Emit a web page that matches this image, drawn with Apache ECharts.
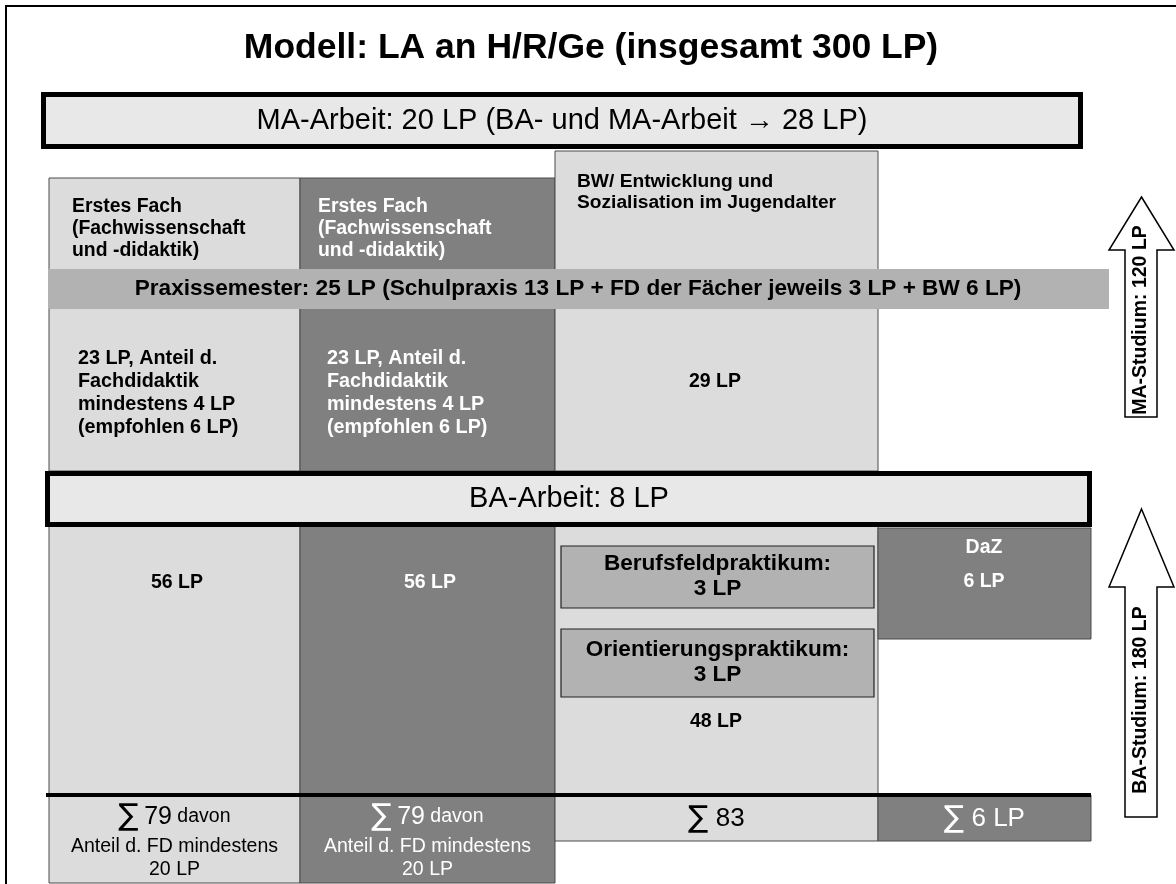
<!DOCTYPE html>
<html>
<head>
<meta charset="utf-8">
<script src="https://cdn.jsdelivr.net/npm/echarts@6/dist/echarts.min.js"></script>
<style>html,body{margin:0;padding:0;background:#fff;}#main{width:1176px;height:884px;}</style>
</head>
<body>
<div id="main"></div>
<script>
// ---------- content / values ----------
const titleText = 'Modell: LA an H/R/Ge (insgesamt 300 LP)';
const maThesis = 'MA-Arbeit: 20 LP (BA- und MA-Arbeit \u2192 28 LP)';
const baThesis = 'BA-Arbeit: 8 LP';
const practiceSemester = 'Praxissemester: 25 LP (Schulpraxis 13 LP + FD der F\u00e4cher jeweils 3 LP + BW 6 LP)';
const columnHeads = [
  'Erstes Fach\n(Fachwissenschaft\nund -didaktik)',
  'Erstes Fach\n(Fachwissenschaft\nund -didaktik)',
  'BW/ Entwicklung und\nSozialisation im Jugendalter'
];
const maModules = [
  '23 LP, Anteil d.\nFachdidaktik\nmindestens 4 LP\n(empfohlen 6 LP)',
  '23 LP, Anteil d.\nFachdidaktik\nmindestens 4 LP\n(empfohlen 6 LP)',
  '29 LP'
];
const baModuleLP = [56, 56, 48];
const dazName = 'DaZ';
const dazLP = 6;
const internships = ['Berufsfeldpraktikum', 'Orientierungspraktikum'];
const internshipLP = [3, 3];
const sumLP = [79, 79, 83, 6];
const fdMinimumLP = 20;
const phaseNames = ['MA-Studium', 'BA-Studium'];
const phaseLP = [120, 180];

// ---------- layout (diagram units) ----------
const W = 1176, H = 884;
const colX = [49, 300, 555, 878, 1091];
const upperTop = [178, 178, 151];
const upperBottom = 471;
const lowerTop = 525, lowerBottom = 795;
const sumBottom = [883, 883, 841, 841];
const dazBox = [878, 528, 1091, 639];
const bandBox = [48, 269, 1109, 309];
const maBox = [41, 92, 1083, 149];
const baBox = [45, 471, 1092, 527];
const internBoxes = [[561, 546, 874, 608], [561, 629, 874, 697]];
const arrowX = [1109, 1125, 1157, 1174];
const arrows = [[197, 250, 417], [509, 587, 817]];

const LIGHT = '#dcdcdc', DARK = '#808080', BAND = '#b2b2b2', THESIS = '#e8e8e8', EDGE = '#4a4a4a';
const FONT = '"Liberation Sans", Arial, Helvetica, sans-serif';

// ---------- element specs ----------
const specs = [];
function box(b, fill, stroke, lw) { specs.push({ kind: 'rect', b, fill, stroke, lw }); }
function txt(x, y, text, o) { specs.push(Object.assign({ kind: 'text', x, y, text }, o)); }

// frame (right and bottom edges lie outside the picture)
specs.push({ kind: 'rect', b: [6, 6, 1200, 900], fill: 'none', stroke: '#000', lw: 2 });
// upper columns
const colFill = [LIGHT, DARK, LIGHT, DARK];
for (let i = 0; i < 3; i++) box([colX[i], upperTop[i], colX[i + 1], upperBottom], colFill[i], EDGE, 1);
// lower columns
for (let i = 0; i < 3; i++) box([colX[i], lowerTop, colX[i + 1], lowerBottom], colFill[i], EDGE, 1);
box(dazBox, DARK, EDGE, 1);
// sum cells
for (let i = 0; i < 4; i++) box([colX[i], lowerBottom, colX[i + 1], sumBottom[i]], colFill[i], EDGE, 1);
// praxissemester band
box(bandBox, BAND, null, 0);
// thesis boxes
box([maBox[0] + 2.5, maBox[1] + 2.5, maBox[2] - 2.5, maBox[3] - 2.5], THESIS, '#000', 5);
box([baBox[0] + 2.5, baBox[1] + 2.5, baBox[2] - 2.5, baBox[3] - 2.5], THESIS, '#000', 5);
// sum line
specs.push({ kind: 'line', p: [[46, lowerBottom], [1091, lowerBottom]], lw: 4 });
// internships
internBoxes.forEach(b => box(b, BAND, '#222', 1.2));
// arrows
arrows.forEach(a => specs.push({ kind: 'poly', pts: [
  [(arrowX[0] + arrowX[3]) / 2, a[0]], [arrowX[3], a[1]], [arrowX[2], a[1]], [arrowX[2], a[2]],
  [arrowX[1], a[2]], [arrowX[1], a[1]], [arrowX[0], a[1]]] }));

// texts
txt(591, 48, titleText, { size: 35.5, bold: true });
txt(562, 121, maThesis, { size: 29 });
txt(569, 499, baThesis, { size: 29 });
txt(578, 289, practiceSemester, { size: 22.6, bold: true });
txt(72, 229, columnHeads[0], { size: 19.4, bold: true, align: 'left', lh: 22 });
txt(318, 229, columnHeads[1], { size: 19.4, bold: true, align: 'left', lh: 22, fill: '#fff' });
txt(577, 192.5, columnHeads[2], { size: 19.2, bold: true, align: 'left', lh: 21 });
txt(78, 393.5, maModules[0], { size: 19.8, bold: true, align: 'left', lh: 23 });
txt(327, 393.5, maModules[1], { size: 19.8, bold: true, align: 'left', lh: 23, fill: '#fff' });
txt(715, 382, maModules[2], { size: 19.5, bold: true });
txt(177, 583, baModuleLP[0] + ' LP', { size: 19.5, bold: true });
txt(430, 583, baModuleLP[1] + ' LP', { size: 19.5, bold: true, fill: '#fff' });
txt(716, 722, baModuleLP[2] + ' LP', { size: 19.5, bold: true });
internships.forEach((n, i) => {
  const b = internBoxes[i];
  txt((b[0] + b[2]) / 2, (b[1] + b[3]) / 2 - 0.5, n + ':\n' + internshipLP[i] + ' LP', { size: 22.6, bold: true, lh: 25 });
});
txt(984, 548, dazName, { size: 19.5, bold: true, fill: '#fff' });
txt(984, 582, dazLP + ' LP', { size: 19.5, bold: true, fill: '#fff' });
// sums
[0, 1].forEach(i => {
  const cx = (colX[i] + colX[i + 1]) / 2, f = i === 1 ? '#fff' : '#000';
  txt(cx, 817, '{g|\u2211} {b|' + sumLP[i] + '} {s|davon}', { size: 19.5, fill: f, rich: {
    g: { fontSize: 30, fill: f, fontFamily: '"DejaVu Sans", sans-serif' },
    b: { fontSize: 25, fill: f, fontFamily: FONT }, s: { fontSize: 19.5, fill: f, fontFamily: FONT } } });
  txt(cx, 858.5, 'Anteil d. FD mindestens\n' + fdMinimumLP + ' LP', { size: 19.5, fill: f, lh: 23 });
});
const sumRich = f => ({ g: { fontSize: 30, fill: f, fontFamily: '"DejaVu Sans", sans-serif' }, b: { fontSize: 26, fill: f, fontFamily: FONT } });
txt((colX[2] + colX[3]) / 2, 819, '{g|\u2211} {b|' + sumLP[2] + '}', { size: 26, rich: sumRich('#000') });
txt((colX[3] + colX[4]) / 2, 819, '{g|\u2211} {b|' + sumLP[3] + ' LP}', { size: 26, fill: '#fff', rich: sumRich('#fff') });
// arrow labels
txt(1141, 320, phaseNames[0] + ': ' + phaseLP[0] + ' LP', { size: 19.5, bold: true, rot: Math.PI / 2 });
txt(1141, 700, phaseNames[1] + ': ' + phaseLP[1] + ' LP', { size: 19.5, bold: true, rot: Math.PI / 2 });

// ---------- render ----------
function renderItem(params, api) {
  const s = specs[params.dataIndex];
  if (s.kind === 'rect') {
    const p0 = api.coord([s.b[0], s.b[1]]), p1 = api.coord([s.b[2], s.b[3]]);
    return { type: 'rect', shape: { x: Math.min(p0[0], p1[0]), y: Math.min(p0[1], p1[1]), width: Math.abs(p1[0] - p0[0]), height: Math.abs(p1[1] - p0[1]) },
      style: { fill: s.fill === 'none' ? null : s.fill, stroke: s.stroke || null, lineWidth: s.lw || 0 } };
  }
  if (s.kind === 'line') {
    const p0 = api.coord(s.p[0]), p1 = api.coord(s.p[1]);
    return { type: 'line', shape: { x1: p0[0], y1: p0[1], x2: p1[0], y2: p1[1] }, style: { stroke: '#000', lineWidth: s.lw } };
  }
  if (s.kind === 'poly') {
    return { type: 'polygon', shape: { points: s.pts.map(p => api.coord(p)) }, style: { fill: '#fff', stroke: '#000', lineWidth: 1.5 } };
  }
  const p = api.coord([s.x, s.y]);
  const st = { text: s.text, fill: s.fill || '#000', fontSize: s.size, fontWeight: s.bold ? 'bold' : 'normal', fontFamily: FONT,
    align: s.align || 'center', verticalAlign: 'middle' };
  if (s.lh) st.lineHeight = s.lh;
  if (s.rich) st.rich = s.rich;
  const el = { type: 'text', x: p[0], y: p[1], style: st };
  if (s.rot) el.rotation = s.rot;
  return el;
}

const chart = echarts.init(document.getElementById('main'), null, { renderer: 'canvas' });
chart.setOption({
  backgroundColor: '#fff',
  animation: false,
  grid: { left: 0, right: 0, top: 0, bottom: 0 },
  xAxis: { type: 'value', min: 0, max: W, show: false },
  yAxis: { type: 'value', min: 0, max: H, inverse: true, show: false },
  series: [{
    type: 'custom', coordinateSystem: 'cartesian2d', clip: false, silent: true,
    renderItem, data: specs.map((s, i) => [i])
  }]
});
</script>
</body>
</html>
